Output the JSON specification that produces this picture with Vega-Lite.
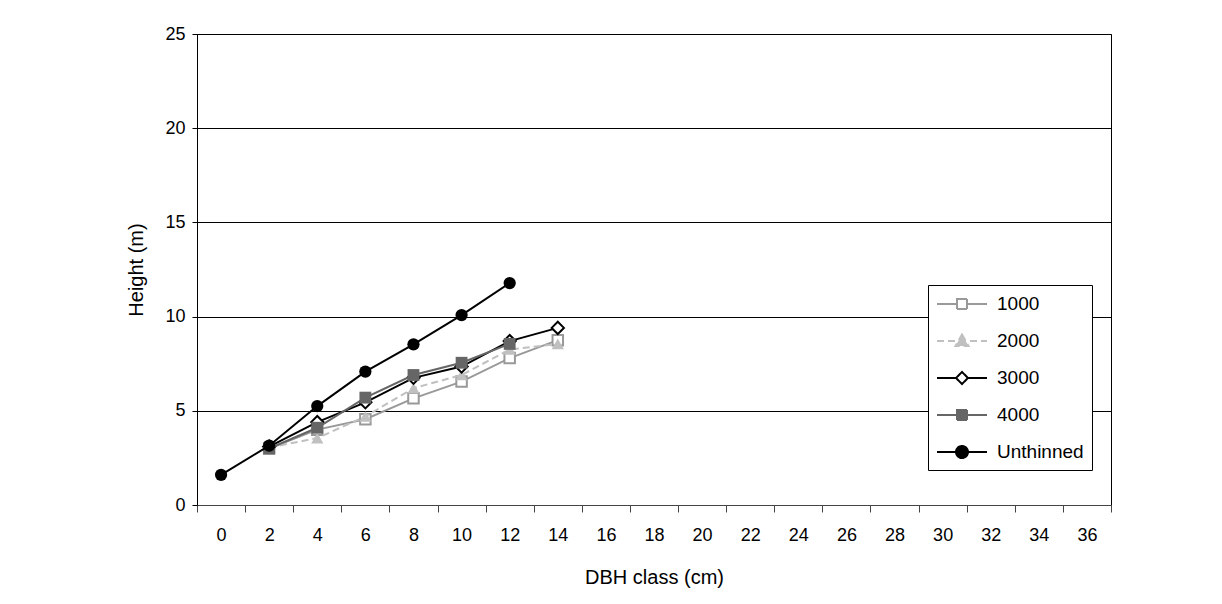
{
  "$schema": "https://vega.github.io/schema/vega-lite/v6.json",
  "width": 914,
  "height": 471,
  "autosize": {"type": "none"},
  "padding": {"left": 197, "top": 34, "right": 111, "bottom": 99},
  "background": "white",
  "config": {
    "font": "Liberation Sans",
    "view": {"stroke": "black", "strokeWidth": 1},
    "axis": {"labelFont": "Liberation Sans", "titleFont": "Liberation Sans", "labelColor": "black", "titleColor": "black", "titleFontWeight": "normal", "labelFontSize": 18, "titleFontSize": 20}
  },
  "data": {"values": [
    {"series": "1000", "dbh": 2, "height": 3.0},
    {"series": "1000", "dbh": 4, "height": 4.0},
    {"series": "1000", "dbh": 6, "height": 4.55},
    {"series": "1000", "dbh": 8, "height": 5.66},
    {"series": "1000", "dbh": 10, "height": 6.55},
    {"series": "1000", "dbh": 12, "height": 7.8},
    {"series": "1000", "dbh": 14, "height": 8.75},
    {"series": "2000", "dbh": 2, "height": 3.05},
    {"series": "2000", "dbh": 4, "height": 3.55},
    {"series": "2000", "dbh": 6, "height": 4.7},
    {"series": "2000", "dbh": 8, "height": 6.2},
    {"series": "2000", "dbh": 10, "height": 6.9},
    {"series": "2000", "dbh": 12, "height": 8.25},
    {"series": "2000", "dbh": 14, "height": 8.55},
    {"series": "3000", "dbh": 2, "height": 3.1},
    {"series": "3000", "dbh": 4, "height": 4.4},
    {"series": "3000", "dbh": 6, "height": 5.45},
    {"series": "3000", "dbh": 8, "height": 6.75},
    {"series": "3000", "dbh": 10, "height": 7.35},
    {"series": "3000", "dbh": 12, "height": 8.7},
    {"series": "3000", "dbh": 14, "height": 9.4},
    {"series": "4000", "dbh": 2, "height": 3.0},
    {"series": "4000", "dbh": 4, "height": 4.1},
    {"series": "4000", "dbh": 6, "height": 5.7},
    {"series": "4000", "dbh": 8, "height": 6.9},
    {"series": "4000", "dbh": 10, "height": 7.55},
    {"series": "4000", "dbh": 12, "height": 8.55},
    {"series": "Unthinned", "dbh": 0, "height": 1.6},
    {"series": "Unthinned", "dbh": 2, "height": 3.15},
    {"series": "Unthinned", "dbh": 4, "height": 5.25},
    {"series": "Unthinned", "dbh": 6, "height": 7.08},
    {"series": "Unthinned", "dbh": 8, "height": 8.53},
    {"series": "Unthinned", "dbh": 10, "height": 10.08},
    {"series": "Unthinned", "dbh": 12, "height": 11.78}
  ]},
  "encoding": {
    "x": {
      "field": "dbh", "type": "quantitative",
      "scale": {"domain": [-1, 37], "nice": false, "zero": false},
      "axis": {
        "title": "DBH class (cm)",
        "values": [-1,0,1,2,3,4,5,6,7,8,9,10,11,12,13,14,15,16,17,18,19,20,21,22,23,24,25,26,27,28,29,30,31,32,33,34,35,36,37],
        "labelExpr": "datum.value % 2 === 0 ? datum.label : ''",
        "tickOpacity": {"condition": {"test": "datum.value % 2 === 0", "value": 0}, "value": 1},
        "grid": false,
        "labelOverlap": false,
        "labelFlush": false,
        "labelBound": false,
        "tickSize": 7,
        "tickColor": "#444",
        "domainColor": "#444",
        "labelPadding": 14,
        "titlePadding": 23
      }
    },
    "y": {
      "field": "height", "type": "quantitative",
      "scale": {"domain": [0, 25], "nice": false},
      "axis": {
        "title": "Height (m)",
        "values": [0, 5, 10, 15, 20, 25],
        "grid": true,
        "gridColor": "black",
        "gridOpacity": 1,
        "tickColor": "black",
        "domainColor": "black",
        "tickSize": 5,
        "labelPadding": 7,
        "titlePadding": 18
      }
    }
  },
  "layer": [
    {"transform": [{"filter": "datum.series === '1000'"}], "mark": {"type": "line", "color": "#999999", "strokeWidth": 2}},
    {"transform": [{"filter": "datum.series === '1000'"}], "mark": {"type": "point", "shape": "square", "size": 110, "filled": false, "fill": "white", "fillOpacity": 1, "stroke": "#999999", "strokeWidth": 2, "opacity": 1}},
    {"transform": [{"filter": "datum.series === '2000'"}], "mark": {"type": "line", "color": "#c0c0c0", "strokeWidth": 2, "strokeDash": [7, 4]}},
    {"transform": [{"filter": "datum.series === '2000'"}], "mark": {"type": "point", "shape": "triangle-up", "size": 150, "filled": true, "color": "#c0c0c0", "opacity": 1}},
    {"transform": [{"filter": "datum.series === '3000'"}], "mark": {"type": "line", "color": "black", "strokeWidth": 2}},
    {"transform": [{"filter": "datum.series === '3000'"}], "mark": {"type": "point", "shape": "diamond", "size": 150, "filled": false, "fill": "white", "fillOpacity": 1, "stroke": "black", "strokeWidth": 2, "opacity": 1}},
    {"transform": [{"filter": "datum.series === '4000'"}], "mark": {"type": "line", "color": "#666666", "strokeWidth": 2}},
    {"transform": [{"filter": "datum.series === '4000'"}], "mark": {"type": "point", "shape": "square", "size": 140, "filled": true, "color": "#666666", "opacity": 1}},
    {"transform": [{"filter": "datum.series === 'Unthinned'"}], "mark": {"type": "line", "color": "black", "strokeWidth": 2}},
    {"transform": [{"filter": "datum.series === 'Unthinned'"}], "mark": {"type": "point", "shape": "circle", "size": 150, "filled": true, "color": "black", "opacity": 1}},
    {
      "transform": [{"filter": "datum.height > 100"}],
      "mark": {"type": "point", "filled": true, "opacity": 1, "fillOpacity": 1, "strokeOpacity": 1},
      "encoding": {
        "shape": {
          "field": "series", "type": "nominal",
          "scale": {
            "domain": ["1000", "2000", "3000", "4000", "Unthinned"],
            "range": [
              "M-2.5,0H-0.5M0.5,0H2.5M-0.5,-0.5H0.5V0.5H-0.5Z",
              "M-2.5,0H2.5M0,-0.65L0.65,0.5L-0.65,0.5Z",
              "M-2.5,0H-0.6M0.6,0H2.5M0,-0.6L0.6,0L0,0.6L-0.6,0Z",
              "M-2.5,0H2.5M-0.5,-0.5H0.5V0.5H-0.5Z",
              "M-2.5,0H2.5M-0.6,0A0.6,0.6,0,1,1,0.6,0A0.6,0.6,0,1,1,-0.6,0Z"
            ]
          },
          "legend": {
            "title": null,
            "orient": "none",
            "legendX": 731,
            "legendY": 251,
            "padding": 8,
            "strokeColor": "black",
            "fillColor": "white",
            "symbolSize": 400,
            "symbolStrokeWidth": 2,
            "symbolOpacity": 1,
            "symbolOffset": 15,
            "labelOffset": 24,
            "rowPadding": 16,
            "labelFont": "Liberation Sans",
            "labelFontSize": 19,
            "labelColor": "black"
          }
        },
        "stroke": {
          "field": "series", "type": "nominal",
          "scale": {"domain": ["1000", "2000", "3000", "4000", "Unthinned"], "range": ["#999999", "#c0c0c0", "black", "#666666", "black"]}
        },
        "fill": {
          "field": "series", "type": "nominal",
          "scale": {"domain": ["1000", "2000", "3000", "4000", "Unthinned"], "range": ["white", "#c0c0c0", "white", "#666666", "black"]}
        },
        "strokeDash": {
          "field": "series", "type": "nominal",
          "scale": {"domain": ["1000", "2000", "3000", "4000", "Unthinned"], "range": [[1, 0], [7, 4], [1, 0], [1, 0], [1, 0]]}
        }
      }
    }
  ]
}
